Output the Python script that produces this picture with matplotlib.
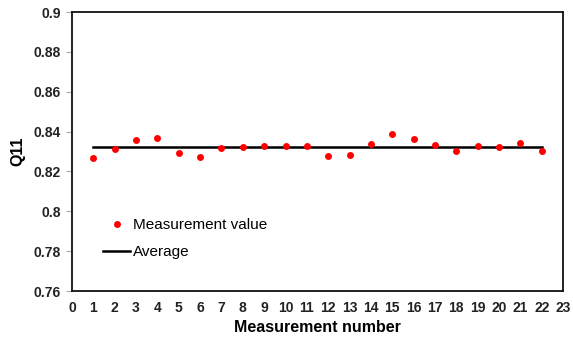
import numpy as np
import matplotlib
matplotlib.use("Agg")
import matplotlib.pyplot as plt

# Q11 readings for each measurement run
meas_no = list(range(1, 23))
q11 = [0.8267, 0.8315, 0.8358, 0.8370, 0.8295, 0.8272, 0.8320, 0.8322,
       0.8327, 0.8327, 0.8327, 0.8278, 0.8283, 0.8337, 0.8387, 0.8365,
       0.8333, 0.8305, 0.8328, 0.8322, 0.8343, 0.8305]
q11_avg = float(np.mean(q11))

x_ticks = list(range(0, 24))
y_ticks = [0.76, 0.78, 0.80, 0.82, 0.84, 0.86, 0.88, 0.90]
y_labels = ["0.76", "0.78", "0.8", "0.82", "0.84", "0.86", "0.88", "0.9"]

plt.rcParams["font.family"] = ["Liberation Sans", "DejaVu Sans"]

fig = plt.figure(figsize=(5.73, 3.44), dpi=100)
ax = fig.add_axes([0.1257, 0.154, 0.857, 0.811])

ax.plot(meas_no, q11, "o", color="#ff0000", markersize=5,
        markeredgewidth=0, label="Measurement value", zorder=3)
ax.plot([meas_no[0], meas_no[-1]], [q11_avg, q11_avg], color="black",
        linewidth=1.8, label="Average", zorder=2)

ax.set_xlim(0, 23)
ax.set_ylim(0.76, 0.90)
ax.set_xticks(x_ticks)
ax.set_yticks(y_ticks)
ax.set_yticklabels(y_labels)
ax.tick_params(axis="x", length=0, pad=7, labelsize=10)
ax.tick_params(axis="y", length=4, color="#aaaaaa", direction="out",
               pad=4, labelsize=10)
for lab in ax.get_xticklabels() + ax.get_yticklabels():
    lab.set_fontweight("bold")
    lab.set_color("#222222")

for sp in ax.spines.values():
    sp.set_linewidth(1.3)
    sp.set_color("#111111")

ax.set_xlabel("Measurement number", fontsize=11.5, fontweight="bold",
              labelpad=4)
ax.set_ylabel("Q11", fontsize=11.5, fontweight="bold", labelpad=6)

ax.legend(loc="lower left", bbox_to_anchor=(0.036, 0.066), frameon=False,
          fontsize=11, handlelength=1.75, handletextpad=0.2,
          labelspacing=0.85)

fig.savefig("out.png", dpi=100)
